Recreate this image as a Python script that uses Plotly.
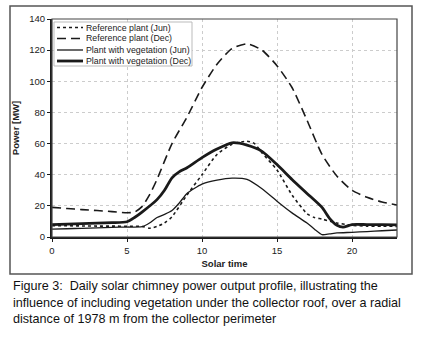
import plotly.graph_objects as go

# ---------------- data ----------------
t_ref_jun = [0, 1, 2, 3, 4, 5, 6, 6.5, 7, 7.5, 8, 9, 10, 11, 12, 13, 13.5, 14, 15, 16, 17, 17.5, 18, 19, 20, 21, 22, 23]
p_ref_jun = [7.3, 7.2, 7.1, 7.0, 7.0, 6.9, 6.8, 5.6, 6.8, 9, 13, 27, 40, 53, 59.5, 61.5, 60, 54, 43, 27, 15, 12.5, 11.5, 9, 7.5, 7, 7, 6.8]

t_ref_dec = [0, 1, 2, 3, 4, 5, 5.5, 6, 6.5, 7, 8, 9, 10, 11, 12, 13, 14, 15, 16, 17, 18, 19, 20, 21, 22, 23]
p_ref_dec = [19, 18.3, 17.6, 17, 16.3, 15.6, 16, 19.5, 27, 37, 60, 77, 96, 111, 121, 124, 120, 110, 96, 75, 53, 39, 30, 25.5, 22.5, 20.5]

t_veg_jun = [0, 1, 2, 3, 4, 5, 6, 6.5, 7, 7.5, 8, 8.5, 9, 10, 11, 12, 13, 14, 15, 16, 17, 17.5, 18, 18.5, 19, 20, 21, 22, 23]
p_veg_jun = [5, 5.3, 5.6, 5.9, 6.2, 6.4, 6.6, 9, 12.5, 14.5, 17, 22, 28, 34, 36.5, 37.8, 37, 31, 23, 15.5, 9, 5, 1.5, 2, 2.6, 3, 3.5, 4, 4.5]

t_veg_dec = [0, 1, 2, 3, 4, 5, 5.5, 6, 7, 7.5, 8, 8.5, 9, 10, 11, 12, 13, 14, 15, 16, 17, 18, 18.5, 19, 19.4, 20, 21, 22, 23]
p_veg_dec = [8, 8.3, 8.6, 8.9, 9.2, 9.8, 12.5, 16, 24, 30, 38, 42, 44.5, 51, 56.5, 60.5, 59, 55, 46.5, 37, 28, 19, 12, 7.5, 6.3, 8, 8, 8, 7.8]

series_names = ["Reference plant (Jun)", "Reference plant (Dec)",
                "Plant with vegetation (Jun)", "Plant with vegetation (Dec)"]
x_ticks = [0, 5, 10, 15, 20]
y_ticks = [0, 20, 40, 60, 80, 100, 120, 140]

caption_lines = [
    "Figure 3:  Daily solar chimney power output profile, illustrating the",
    "influence of including vegetation under the collector roof, over a radial",
    "distance of 1978 m from the collector perimeter",
]

# ---------------- layout geometry (pixels) ----------------
W, H = 424, 338
PL, PR, PT, PB = 52, 397, 19, 237


def px(p):
    return (p - PL) / (PR - PL)


def py(q):
    return (PB - q) / (PB - PT)


INK = "#1a1a1a"
FONT = "Liberation Sans, Arial, sans-serif"

styles = [
    dict(color=INK, width=1.6, dash="3px,3px"),
    dict(color=INK, width=1.6, dash="9px,5px"),
    dict(color=INK, width=1.3),
    dict(color=INK, width=2.8),
]
data = [(t_ref_jun, p_ref_jun), (t_ref_dec, p_ref_dec),
        (t_veg_jun, p_veg_jun), (t_veg_dec, p_veg_dec)]

fig = go.Figure()
for (tx, pv), name, st in zip(data, series_names, styles):
    fig.add_trace(go.Scatter(x=tx, y=pv, mode="lines", name=name,
                             line=dict(shape="spline", smoothing=0.6, **st),
                             showlegend=False))

shapes = []
annotations = []

# outer frame
shapes.append(dict(type="rect", xref="paper", yref="paper",
                   x0=px(10), x1=px(412), y0=py(274), y1=py(6),
                   line=dict(color="#555555", width=1.5), layer="below"))
# plot box (top / right thinner)
shapes.append(dict(type="rect", xref="paper", yref="paper",
                   x0=0, x1=1, y0=0, y1=1,
                   line=dict(color="#444444", width=1.2)))

# manual legend
lx0, lx1, ly0, ly1 = 54, 192, 22, 66
shapes.append(dict(type="rect", xref="paper", yref="paper",
                   x0=px(lx0), x1=px(lx1), y0=py(ly1), y1=py(ly0),
                   line=dict(color="#bbbbbb", width=1), fillcolor="white"))
leg_y = [27.5, 38.5, 50, 61]
for name, st, yy in zip(series_names, styles, leg_y):
    shapes.append(dict(type="line", xref="paper", yref="paper",
                       x0=px(57), x1=px(83), y0=py(yy), y1=py(yy),
                       line=st))
    annotations.append(dict(text=name, xref="paper", yref="paper",
                            x=px(84), y=py(yy), xanchor="left", yanchor="middle",
                            showarrow=False,
                            font=dict(family=FONT, size=8.8, color="#222222")))

# caption (one annotation per line to control the line spacing)
for i, line in enumerate(caption_lines):
    annotations.append(dict(text=line, xref="paper", yref="paper",
                            x=px(11), y=py(286 + 16.5 * i), xanchor="left", yanchor="middle",
                            align="left", showarrow=False,
                            font=dict(family=FONT, size=12.6, color="#111111")))

fig.update_layout(
    width=W, height=H,
    margin=dict(l=PL, r=W - PR, t=PT, b=H - PB, pad=0),
    paper_bgcolor="white", plot_bgcolor="white",
    font=dict(family=FONT, size=10, color="#222222"),
    shapes=shapes, annotations=annotations,
    showlegend=False,
)
fig.update_xaxes(range=[0, 23], tickvals=x_ticks, ticks="outside", ticklen=3,
                 tickcolor=INK, showline=True, linecolor=INK, linewidth=2.2,
                 showgrid=True, gridcolor="#cccccc", griddash="dot", gridwidth=1,
                 zeroline=False, tickfont=dict(size=9.5),
                 title=dict(text="<b>Solar time</b>", font=dict(size=9.5), standoff=6))
fig.update_yaxes(range=[0, 140], tickvals=y_ticks, ticks="outside", ticklen=3,
                 tickcolor=INK, showline=True, linecolor=INK, linewidth=2.2,
                 showgrid=True, gridcolor="#cccccc", griddash="dot", gridwidth=1,
                 zeroline=False, tickfont=dict(size=9.5),
                 title=dict(text="<b>Power [MW]</b>", font=dict(size=9.5), standoff=8))

fig.write_html("out.html",
               config={"displayModeBar": False},
               post_script="document.body.style.margin='0';document.body.style.overflow='hidden';")
